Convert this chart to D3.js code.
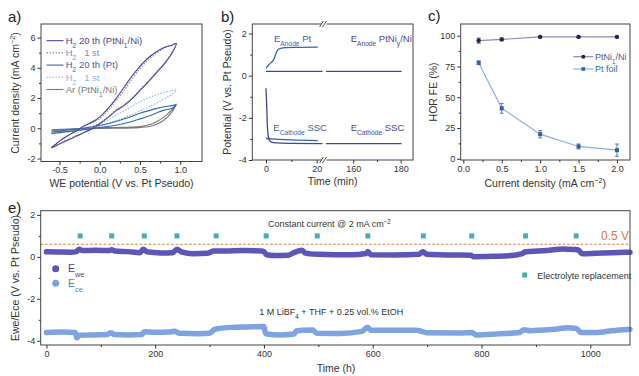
<!DOCTYPE html>
<html>
<head>
<meta charset="utf-8">
<script src="https://cdn.jsdelivr.net/npm/d3@7"></script>
<style>
body { margin: 0; background: #fff; }
svg { font-family: "Liberation Sans", Arial, sans-serif; }
</style>
</head>
<body>
<div id="container"></div>
<script>
// a) CV loops, [potential V, current density mA cm-2]
var cvNi20 = [[-0.6,-1.3],[-0.5,-0.85],[-0.4,-0.5],[-0.3,-0.2],[-0.2,0.15],[-0.12,0.35],[-0.05,0.55],[0.0,0.75],[0.1,1.3],[0.2,1.95],[0.3,2.7],[0.4,3.45],[0.5,4.1],[0.6,4.65],[0.7,5.05],[0.8,5.35],[0.9,5.5],[0.95,5.62],
  [0.9,5.0],[0.8,4.25],[0.7,3.65],[0.6,3.05],[0.5,2.5],[0.4,1.95],[0.3,1.5],[0.2,1.15],[0.1,0.7],[0.0,0.3],[-0.1,-0.05],[-0.2,-0.3],[-0.3,-0.55],[-0.4,-0.8],[-0.5,-1.05],[-0.6,-1.3]];
var cvNi1 = [[-0.6,-1.25],[-0.5,-0.85],[-0.4,-0.5],[-0.3,-0.2],[-0.2,0.1],[-0.1,0.35],[0.0,0.65],[0.1,1.15],[0.2,1.8],[0.3,2.5],[0.4,3.25],[0.5,3.95],[0.6,4.5],[0.7,4.95],[0.8,5.3],[0.9,5.5],[0.95,5.6],
  [0.9,5.05],[0.8,4.3],[0.7,3.7],[0.6,3.1],[0.5,2.55],[0.4,2.0],[0.3,1.55],[0.2,1.2],[0.1,0.75],[0.0,0.35],[-0.1,0.0],[-0.2,-0.28],[-0.3,-0.5],[-0.4,-0.75],[-0.5,-1.0],[-0.6,-1.25]];
var cvPt20 = [[-0.6,-0.25],[-0.4,-0.12],[-0.2,0.0],[0.0,0.18],[0.2,0.45],[0.4,0.8],[0.5,1.0],[0.6,1.15],[0.7,1.3],[0.8,1.42],[0.9,1.5],[0.95,1.55],
  [0.9,1.32],[0.8,1.2],[0.7,1.0],[0.6,0.8],[0.5,0.62],[0.4,0.45],[0.2,0.2],[0.0,0.05],[-0.2,-0.1],[-0.4,-0.22],[-0.6,-0.35]];
var cvPt1 = [[-0.6,-0.3],[-0.4,-0.15],[-0.2,0.02],[0.0,0.3],[0.1,0.55],[0.2,0.85],[0.3,1.15],[0.4,1.45],[0.5,1.75],[0.6,2.0],[0.7,2.2],[0.8,2.38],[0.9,2.5],[0.95,2.56],
  [0.9,2.25],[0.8,1.95],[0.7,1.65],[0.6,1.4],[0.5,1.15],[0.4,0.9],[0.3,0.7],[0.2,0.5],[0.1,0.3],[0.0,0.12],[-0.2,-0.1],[-0.4,-0.25],[-0.6,-0.38]];
var cvAr = [[-0.6,-0.1],[-0.4,-0.05],[-0.2,0.0],[0.0,0.03],[0.2,0.05],[0.4,0.08],[0.5,0.12],[0.6,0.22],[0.7,0.42],[0.8,0.75],[0.9,1.25],[0.95,1.6],
  [0.9,1.1],[0.8,0.55],[0.7,0.25],[0.6,0.1],[0.4,0.02],[0.2,0.0],[0.0,-0.02],[-0.2,-0.05],[-0.4,-0.1],[-0.6,-0.15]];

// b) potential vs time, [min, V]
var anodePt = [[0,0.35],[1,0.5],[2,0.62],[3,0.75],[3.8,1.0],[4.5,1.2],[5.5,1.28],[8,1.33],[12,1.34],[20.4,1.35]];
var anodeNiL = [[0,0.2],[22.3,0.2]];
var anodeNiR = [[148.5,0.2],[180.4,0.2]];
var cathNiL = [[0,-0.6],[0.3,-1.5],[0.6,-2.5],[1,-2.95],[1.5,-3.1],[3,-3.18],[6,-3.2],[22.3,-3.22]];
var cathNiR = [[148.5,-3.22],[180.4,-3.22]];
var cathPt = [[0,-2.98],[5,-3.02],[10,-3.05],[20.4,-3.08]];

// c) HOR faradaic efficiency
var currents = [0.2, 0.5, 1.0, 1.5, 2.0];
var feNi = [96, 97, 99, 99, 99];
var feNiErr = [2, 1, 0.5, 0.5, 0.5];
var fePt = [78, 41, 20, 10, 7];
var fePtErr = [1.5, 4, 3, 2, 5];

// e) long-term test, [h, V]
var ewe = [[0,0.24],[20,0.23],[45,0.22],[55,0.25],[60,0.36],[66,0.3],[90,0.31],[115,0.3],[120,0.34],[126,0.28],[150,0.25],[172,0.2],[178,0.36],[185,0.24],[210,0.19],[232,0.2],[240,0.36],[248,0.24],[270,0.15],[295,0.17],[308,0.28],[330,0.28],[360,0.3],[395,0.28],[400,0.25],[405,0.1],[420,0.06],[445,0.08],[455,0.2],[470,0.32],[476,0.18],[500,0.12],[530,0.1],[560,0.1],[588,0.16],[591,0.25],[597,0.1],[640,0.09],[685,0.12],[692,0.24],[700,0.12],[740,0.09],[780,0.08],[786,0.01],[810,0.02],[850,0.05],[875,0.15],[880,0.24],[890,0.26],[920,0.3],[950,0.38],[970,0.35],[978,0.33],[985,0.15],[1010,0.17],[1040,0.2],[1073,0.22]];
var ece = [[0,-3.6],[30,-3.58],[53,-3.6],[56,-3.86],[60,-3.74],[90,-3.72],[112,-3.7],[118,-3.62],[125,-3.7],[150,-3.72],[175,-3.7],[180,-3.57],[200,-3.59],[225,-3.58],[235,-3.55],[245,-3.64],[280,-3.66],[300,-3.64],[310,-3.45],[340,-3.36],[370,-3.34],[400,-3.32],[403,-3.66],[430,-3.72],[455,-3.68],[460,-3.52],[470,-3.5],[490,-3.48],[497,-3.64],[540,-3.65],[580,-3.55],[590,-3.36],[597,-3.5],[640,-3.5],[680,-3.5],[690,-3.55],[700,-3.62],[760,-3.63],[782,-3.6],[790,-3.72],[830,-3.67],[870,-3.6],[878,-3.47],[890,-3.52],[930,-3.46],[960,-3.38],[975,-3.42],[982,-3.6],[1010,-3.6],[1040,-3.52],[1073,-3.45]];
var replaceTimes = [62, 120, 180, 240, 312, 404, 498, 591, 693, 782, 881, 974];
var replaceLevel = 1.0;
var limitLevel = 0.6;

var purple = "#4b4590", purpleL = "#8a84c0", blue = "#3566ad", blueL = "#8db4e0", grey = "#7a7a7a";
var ink = "#333";

var svg = d3.select("#container").append("svg")
    .attr("width", 639)
    .attr("height", 376);

function rich(t, parts) {
    parts.forEach(function (p) {
        if (typeof p === "string") t.append("tspan").text(p);
        else t.append("tspan")
            .attr("baseline-shift", p.sub !== undefined ? "sub" : "super")
            .attr("font-size", "70%")
            .text(p.sub !== undefined ? p.sub : p.sup);
    });
    return t;
}

function label(x, y, size, color, parts, anchor, rot) {
    var t = svg.append("text")
        .attr("font-size", size)
        .attr("fill", color)
        .attr("text-anchor", anchor || "start")
        .style("white-space", "pre");
    if (rot) t.attr("transform", "translate(" + x + "," + y + ") rotate(-90)");
    else t.attr("x", x).attr("y", y);
    return rich(t, parts);
}

function styleAxis(s) {
    s.select(".domain").remove();
    s.attr("font-family", null).attr("font-size", 9);
    s.selectAll("line").attr("stroke", ink);
    s.selectAll("text").attr("fill", ink);
}

function xAxis(scale, y0, major, minor, fmt) {
    svg.append("g").attr("transform", "translate(0," + y0 + ")")
        .call(d3.axisBottom(scale).tickValues(major).tickSize(3.5).tickSizeOuter(0).tickPadding(2).tickFormat(fmt))
        .call(styleAxis);
    svg.append("g").attr("transform", "translate(0," + y0 + ")")
        .call(d3.axisBottom(scale).tickValues(minor).tickSize(2).tickSizeOuter(0).tickFormat(""))
        .call(styleAxis);
}

function yAxis(scale, x0, major, minor, fmt) {
    svg.append("g").attr("transform", "translate(" + x0 + ",0)")
        .call(d3.axisLeft(scale).tickValues(major).tickSize(3.5).tickSizeOuter(0).tickPadding(2).tickFormat(fmt))
        .call(styleAxis);
    svg.append("g").attr("transform", "translate(" + x0 + ",0)")
        .call(d3.axisLeft(scale).tickValues(minor).tickSize(2).tickSizeOuter(0).tickFormat(""))
        .call(styleAxis);
}

function frame(x0, y0, x1, y1) {
    svg.append("rect")
        .attr("x", x0).attr("y", y0)
        .attr("width", x1 - x0).attr("height", y1 - y0)
        .attr("fill", "none").attr("stroke", "#444").attr("stroke-width", 1);
}

var fmtDash = function (f) { return function (d) { return d3.format(f)(d).replace("−", "-"); }; };

// ---------- a) ----------
var xa = d3.scaleLinear().domain([-0.73, 1.27]).range([41, 202]);
var ya = d3.scaleLinear().domain([-2.2, 6.9]).range([161.5, 24]);
var lineA = d3.line().x(function (d) { return xa(d[0]); }).y(function (d) { return ya(d[1]); }).curve(d3.curveCatmullRom);

var cvSeries = [
    { data: cvAr, color: grey, dash: null },
    { data: cvPt1, color: blueL, dash: "1.5,1.5" },
    { data: cvPt20, color: blue, dash: null },
    { data: cvNi1, color: purpleL, dash: "1.5,1.5" },
    { data: cvNi20, color: purple, dash: null }
];
cvSeries.forEach(function (s) {
    svg.append("path").attr("d", lineA(s.data))
        .attr("fill", "none").attr("stroke", s.color).attr("stroke-width", 1.1)
        .attr("stroke-dasharray", s.dash);
});

var legA = [
    { color: purple, dash: null, parts: ["H", { sub: "2" }, " 20 th (PtNi", { sub: "1" }, "/Ni)"] },
    { color: purpleL, dash: "1.5,1.5", parts: ["H", { sub: "2" }, "   1 st"] },
    { color: blue, dash: null, parts: ["H", { sub: "2" }, " 20 th (Pt)"] },
    { color: blueL, dash: "1.5,1.5", parts: ["H", { sub: "2" }, "   1 st"] },
    { color: grey, dash: null, parts: ["Ar (PtNi", { sub: "1" }, "/Ni)"] }
];
legA.forEach(function (l, i) {
    var y = 40.7 + i * 12.2;
    svg.append("line").attr("x1", 46.5).attr("x2", 63.5).attr("y1", y).attr("y2", y)
        .attr("stroke", l.color).attr("stroke-width", 1.1).attr("stroke-dasharray", l.dash);
    label(65.7, y + 3.3, 9.5, l.color, l.parts);
});

frame(41, 24, 202, 161.5);
xAxis(xa, 161.5, [-0.5, 0, 0.5, 1.0], [-0.25, 0.25, 0.75], fmtDash(".1f"));
yAxis(ya, 41, [-2, 0, 2, 4, 6], [-1, 1, 3, 5], fmtDash("d"));
label(121.5, 187, 10.5, ink, ["WE potential (V vs. Pt Pseudo)"], "middle");
label(19, 93, 10.5, ink, ["Current density (mA cm", { sup: "−2" }, ")"], "middle", true);
label(8, 22, 15, "#222", ["a)"]);

// ---------- b) ----------
var xbL = d3.scaleLinear().domain([-5.4, 22.6]).range([252.3, 323.3]);
var xbR = d3.scaleLinear().domain([148, 185.2]).range([324.8, 413]);
var yb = d3.scaleLinear().domain([-4, 2.45]).range([160, 24]);
function lineB(sx) {
    return d3.line().x(function (d) { return sx(d[0]); }).y(function (d) { return yb(d[1]); }).curve(d3.curveMonotoneX);
}
[
    { data: anodeNiL, sx: xbL, color: purple },
    { data: anodeNiR, sx: xbR, color: purple },
    { data: cathPt, sx: xbL, color: blue },
    { data: anodePt, sx: xbL, color: blue },
    { data: cathNiL, sx: xbL, color: purple },
    { data: cathNiR, sx: xbR, color: purple }
].forEach(function (s) {
    svg.append("path").attr("d", lineB(s.sx)(s.data))
        .attr("fill", "none").attr("stroke", s.color).attr("stroke-width", 1.3);
});

label(274, 41.5, 9.5, blue, ["E", { sub: "Anode" }, " Pt"]);
label(350.7, 41.5, 9.5, purple, ["E", { sub: "Anode" }, " PtNi", { sub: "y" }, "/Ni"]);
label(273.3, 130.5, 9.5, blue, ["E", { sub: "Cathode" }, " SSC"]);
label(350.7, 130.5, 9.5, purple, ["E", { sub: "Cathode" }, " SSC"]);

frame(252.3, 24, 413, 160);
xAxis(xbL, 160, [0, 20], [10], fmtDash("d"));
xAxis(xbR, 160, [160, 180], [170], fmtDash("d"));
yAxis(yb, 252.3, [-4, -2, 0, 2], [-3, -1, 1], fmtDash("d"));
[24, 160].forEach(function (y) {
    svg.append("rect").attr("x", 321.5).attr("y", y - 2).attr("width", 5).attr("height", 4).attr("fill", "#fff");
    [0, 3].forEach(function (o) {
        svg.append("line").attr("x1", 319.5 + o).attr("y1", y + 3).attr("x2", 323.5 + o).attr("y2", y - 3)
            .attr("stroke", "#444").attr("stroke-width", 0.9);
    });
});
label(332.6, 185, 10.5, ink, ["Time (min)"], "middle");
label(231, 92, 10.5, ink, ["Potential (V vs. Pt Pseudo)"], "middle", true);
label(221, 22, 15, "#222", ["b)"]);

// ---------- c) ----------
var xc = d3.scaleLinear().domain([-0.034, 2.17]).range([460.7, 630]);
var yc = d3.scaleLinear().domain([-1, 109.5]).range([160, 24]);
var lineC = d3.line().x(function (d) { return xc(d[0]); }).y(function (d) { return yc(d[1]); });

var feSeries = [
    { vals: feNi, err: feNiErr, line: "#8c8ab8", mark: "#25244e", shape: "circle" },
    { vals: fePt, err: fePtErr, line: "#8fb0dc", mark: "#3060a8", shape: "square" }
];
feSeries.forEach(function (s) {
    var pts = currents.map(function (c, i) { return [c, s.vals[i], s.err[i]]; });
    svg.append("path").attr("d", lineC(pts)).attr("fill", "none").attr("stroke", s.line).attr("stroke-width", 1.2);
    var g = svg.append("g");
    pts.forEach(function (p) {
        var x = xc(p[0]), y1 = yc(p[1] + p[2]), y2 = yc(p[1] - p[2]);
        g.append("line").attr("x1", x).attr("x2", x).attr("y1", y1).attr("y2", y2).attr("stroke", s.mark).attr("stroke-width", 0.8);
        g.append("line").attr("x1", x - 2).attr("x2", x + 2).attr("y1", y1).attr("y2", y1).attr("stroke", s.mark).attr("stroke-width", 0.8);
        g.append("line").attr("x1", x - 2).attr("x2", x + 2).attr("y1", y2).attr("y2", y2).attr("stroke", s.mark).attr("stroke-width", 0.8);
        if (s.shape === "circle") g.append("circle").attr("cx", x).attr("cy", yc(p[1])).attr("r", 2.2).attr("fill", s.mark);
        else g.append("rect").attr("x", x - 2).attr("y", yc(p[1]) - 2).attr("width", 4).attr("height", 4).attr("fill", s.mark);
    });
});
[
    { y: 56.7, s: feSeries[0], color: "#5a5296", parts: ["PtNi", { sub: "1" }, "/Ni"] },
    { y: 69, s: feSeries[1], color: blue, parts: ["Pt foil"] }
].forEach(function (l) {
    svg.append("line").attr("x1", 573.3).attr("x2", 593.3).attr("y1", l.y).attr("y2", l.y).attr("stroke", l.s.line).attr("stroke-width", 1.2);
    if (l.s.shape === "circle") svg.append("circle").attr("cx", 583.3).attr("cy", l.y).attr("r", 2).attr("fill", l.s.mark);
    else svg.append("rect").attr("x", 581.5).attr("y", l.y - 1.8).attr("width", 3.6).attr("height", 3.6).attr("fill", l.s.mark);
    label(595, l.y + 3, 9, l.color, l.parts);
});

frame(460.7, 24, 630, 160);
xAxis(xc, 160, [0, 0.5, 1.0, 1.5, 2.0], [0.25, 0.75, 1.25, 1.75], d3.format(".1f"));
yAxis(yc, 460.7, [0, 25, 50, 75, 100], [12.5, 37.5, 62.5, 87.5], d3.format("d"));
label(545.3, 187, 10.5, ink, ["Current density (mA cm", { sup: "−2" }, ")"], "middle");
label(437, 92, 10.5, ink, ["HOR FE (%)"], "middle", true);
label(428, 21, 15, "#222", ["c)"]);

// ---------- e) ----------
var xe = d3.scaleLinear().domain([-10.5, 1073]).range([40.7, 630]);
var ye = d3.scaleLinear().domain([-4.2, 2.2]).range([345, 210.7]);
var lineE = d3.line().x(function (d) { return xe(d[0]); }).y(function (d) { return ye(d[1]); }).curve(d3.curveMonotoneX);
var eweColor = "#5d55b8", eceColor = "#7ea3e0";

svg.append("line").attr("x1", 40.7).attr("x2", 630).attr("y1", ye(limitLevel)).attr("y2", ye(limitLevel))
    .attr("stroke", "#e0764a").attr("stroke-width", 1).attr("stroke-dasharray", "2.5,2");
svg.append("path").attr("d", lineE(ece)).attr("fill", "none").attr("stroke", eceColor)
    .attr("stroke-width", 5.5).attr("stroke-linejoin", "round").attr("stroke-linecap", "round");
svg.append("path").attr("d", lineE(ewe)).attr("fill", "none").attr("stroke", eweColor)
    .attr("stroke-width", 5.5).attr("stroke-linejoin", "round").attr("stroke-linecap", "round");
svg.append("g").selectAll("rect").data(replaceTimes).join("rect")
    .attr("x", function (d) { return xe(d) - 2.5; })
    .attr("y", ye(replaceLevel) - 2.5)
    .attr("width", 5).attr("height", 5)
    .attr("fill", "#3fb1b3");

label(268, 226.5, 9, ink, ["Constant current @ 2 mA cm", { sup: "−2" }]);
label(601, 240, 12, "#e0764a", ["0.5 V"]);
svg.append("circle").attr("cx", 55.7).attr("cy", 268.7).attr("r", 3.5).attr("fill", eweColor);
svg.append("circle").attr("cx", 55.7).attr("cy", 283.3).attr("r", 3.5).attr("fill", eceColor);
label(68, 272.3, 10.5, "#4b4590", ["E", { sub: "we" }]);
label(68, 287, 10.5, "#4f7fc8", ["E", { sub: "ce" }]);
svg.append("rect").attr("x", 522.2).attr("y", 272.5).attr("width", 5).attr("height", 5).attr("fill", "#3fb1b3");
label(537.3, 278.5, 9, ink, ["Electrolyte replacement"]);
label(259.3, 315, 9, ink, ["1 M LiBF", { sub: "4" }, " + THF + 0.25 vol.% EtOH"]);

frame(40.7, 210.7, 630, 345);
xAxis(xe, 345, [0, 200, 400, 600, 800, 1000], [100, 300, 500, 700, 900], d3.format("d"));
yAxis(ye, 40.7, [-4, -2, 0, 2], [-3, -1, 1], fmtDash("d"));
label(336, 372, 10.5, ink, ["Time (h)"], "middle");
label(18.5, 278, 10.5, ink, ["Ewe/Ece (V vs. Pt Pseudo)"], "middle", true);
label(8, 213, 15, "#222", ["e)"]);
</script>
</body>
</html>
